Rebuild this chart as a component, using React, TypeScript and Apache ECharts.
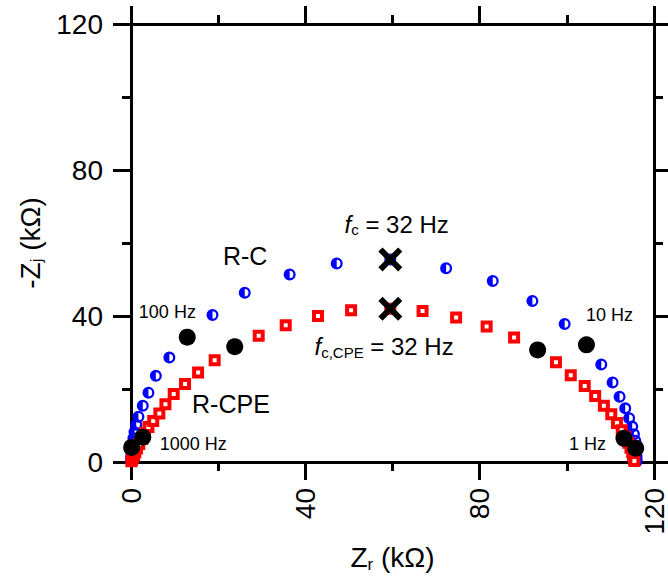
import { useEffect, useRef } from 'react';
import * as echarts from 'echarts';

// Nyquist plot: impedance of an R-C and an R-CPE element (kΩ)
const rcData: [number, number][] = [
  [0.02, 0.5], [0.04, 1.0], [0.07, 1.7], [0.12, 2.6], [0.2, 3.7], [0.35, 5.0],
  [0.55, 6.5], [0.8, 8.2], [1.2, 10.2], [1.7, 12.4], [2.7, 15.4], [4.0, 19.0],
  [5.7, 23.6], [8.8, 28.6], [12.9, 34.2], [18.7, 40.3], [26.1, 46.4], [36.4, 51.4],
  [47.2, 54.4], [59.5, 55.5], [72.3, 53.1], [83.0, 49.6], [92.1, 44.1], [99.5, 37.8],
  [104.5, 32.1], [107.9, 26.7], [110.5, 21.8], [112.1, 17.9], [113.4, 14.7], [114.3, 12.0],
  [115.0, 9.7], [115.4, 7.6], [115.7, 5.8], [115.8, 4.2], [115.9, 2.8], [116.0, 1.6],
  [116.0, 0.7], [116.0, 0.2],
];

const rcpeData: [number, number][] = [
  [0.1, 0.2], [0.25, 0.6], [0.45, 1.2], [0.7, 1.9], [1.0, 2.7], [1.4, 3.7],
  [1.9, 4.9], [2.5, 6.3], [3.2, 7.9], [4.0, 9.6], [5.1, 11.2], [6.5, 13.3],
  [7.9, 15.8], [9.8, 18.6], [12.4, 21.4], [15.4, 24.5], [19.2, 27.9], [23.8, 31.6],
  [29.3, 34.6], [35.5, 37.5], [42.9, 40.0], [50.5, 41.6], [59.5, 42.0], [66.9, 41.4],
  [74.6, 39.6], [81.6, 37.1], [87.9, 34.1], [93.3, 30.7], [97.5, 27.3], [100.9, 23.8],
  [104.1, 20.8], [106.5, 18.1], [108.5, 15.4], [110.2, 13.1], [111.5, 10.7], [112.6, 8.7],
  [113.4, 6.9], [114.1, 5.3], [114.6, 3.9], [115.0, 2.7], [115.2, 1.7], [115.4, 0.9],
  [115.5, 0.3],
];

// points at 1000, 100, 10 and 1 Hz on both curves
const decadePoints: [number, number][] = [
  [0.15, 4.0], [2.7, 6.8], [12.9, 34.2], [23.8, 31.6],
  [93.3, 30.7], [104.5, 32.1], [113.1, 6.5], [115.8, 3.8],
];

// characteristic frequency (32 Hz) of each curve
const peakPoints: [number, number][] = [
  [59.5, 55.5], [59.5, 42.0],
];

const axisMin = 0;
const axisMax = 120;
const axisStep = 40;

// annotation text and anchor (data coordinates of the text's left / vertical middle)
const annotations = [
  { text: 'R-C', at: [21.1, 56.4], size: 25 },
  { text: 'R-CPE', at: [14.0, 15.9], size: 25 },
  { text: '100 Hz', at: [1.8, 41.2], size: 18 },
  { text: '1000 Hz', at: [6.6, 4.8], size: 18 },
  { text: '10 Hz', at: [104.4, 40.3], size: 18 },
  { text: '1 Hz', at: [100.5, 4.8], size: 18 },
  { text: '{i|f}{s|c}{n| = 32 Hz}', at: [49.0, 65.2], size: 24 },
  { text: '{i|f}{s|c,CPE}{n| = 32 Hz}', at: [42.1, 31.6], size: 24 },
];

const FONT = '"Liberation Sans", Arial, Helvetica, sans-serif';

// blue ring with its left half filled
const HALF_CIRCLE =
  'path://M0,-1A1,1,0,1,1,0,1A1,1,0,1,1,0,-1Z' +
  'M0,-0.62A0.62,0.62,0,1,0,0,0.62A0.62,0.62,0,1,0,0,-0.62Z' +
  'M0,-0.62A0.62,0.62,0,0,0,0,0.62Z';

const CROSS =
  'path://M-1,-0.65L-0.65,-1L0,-0.35L0.65,-1L1,-0.65L0.35,0L1,0.65L0.65,1L0,0.35L-0.65,1L-1,0.65L-0.35,0Z';

const subRich = {
  i: { fontSize: 24, fontStyle: 'italic', fontFamily: FONT, color: '#000', lineHeight: 26 },
  s: { fontSize: 15, fontFamily: FONT, color: '#000', lineHeight: 8, verticalAlign: 'bottom' },
  n: { fontSize: 24, fontFamily: FONT, color: '#000', lineHeight: 26 },
};

export default function App() {
  const ref = useRef<HTMLDivElement>(null);

  useEffect(() => {
    document.body.style.margin = '0';
    const chart = echarts.init(ref.current!, null, { renderer: 'svg' });

    const axisBase = {
      type: 'value',
      min: axisMin,
      max: axisMax,
      interval: axisStep,
      axisLine: { show: true, onZero: false, lineStyle: { color: '#000', width: 3 } },
      axisTick: { show: true, inside: false, length: 18, lineStyle: { color: '#000', width: 3 } },
      minorTick: { show: true, splitNumber: 2, length: 9, lineStyle: { color: '#000', width: 3 } },
      splitLine: { show: false },
      minorSplitLine: { show: false },
    };

    const nameStyle = {
      fontSize: 28,
      fontFamily: FONT,
      color: '#000',
      lineHeight: 30,
      rich: {
        s: { fontSize: 17, fontFamily: FONT, color: '#000', lineHeight: 8, verticalAlign: 'bottom' },
      },
    };

    chart.setOption({
      animation: false,
      backgroundColor: '#fff',
      grid: { left: 131, right: 13, top: 24, bottom: 122, containLabel: false },
      xAxis: [
        {
          ...axisBase,
          position: 'bottom',
          axisLabel: {
            rotate: 90, fontSize: 28, margin: 26, color: '#000', fontFamily: FONT,
            showMinLabel: true, showMaxLabel: true,
          },
          name: 'Z{s|r} (kΩ)',
          nameLocation: 'middle',
          nameGap: 74,
          nameTextStyle: nameStyle,
        },
        { ...axisBase, position: 'top', axisLabel: { show: false } },
      ],
      yAxis: [
        {
          ...axisBase,
          position: 'left',
          axisLabel: { fontSize: 28, margin: 28, color: '#000', fontFamily: FONT },
          name: '-Z{s|j} (kΩ)',
          nameLocation: 'middle',
          nameRotate: 90,
          nameGap: 84,
          nameTextStyle: nameStyle,
        },
        { ...axisBase, position: 'right', axisLabel: { show: false } },
      ],
      series: [
        {
          name: 'R-C',
          type: 'scatter',
          data: rcData,
          symbol: HALF_CIRCLE,
          symbolSize: 12,
          itemStyle: { color: '#0000ff', opacity: 1 },
          clip: false,
          z: 2,
        },
        {
          name: 'R-CPE',
          type: 'scatter',
          data: rcpeData,
          symbol: 'rect',
          symbolSize: 8,
          itemStyle: { color: '#ffffff', borderColor: '#ff0000', borderWidth: 4, opacity: 1 },
          clip: false,
          z: 3,
        },
        {
          name: 'decades',
          type: 'scatter',
          data: decadePoints,
          symbol: 'circle',
          symbolSize: 17,
          itemStyle: { color: '#000', opacity: 1 },
          clip: false,
          z: 4,
        },
        {
          name: 'fc',
          type: 'scatter',
          data: peakPoints,
          symbol: CROSS,
          symbolSize: 24,
          itemStyle: { color: '#000', opacity: 1 },
          clip: false,
          z: 5,
        },
      ],
    });

    const toPx = (p: number[]) => chart.convertToPixel({ seriesIndex: 0 }, p) as number[];

    chart.setOption({
      graphic: annotations.map((a) => {
        const [x, y] = toPx(a.at);
        return {
          type: 'text',
          x,
          y,
          z: 10,
          style: {
            text: a.text,
            fontSize: a.size,
            fontFamily: FONT,
            fill: '#000',
            align: 'left',
            verticalAlign: 'middle',
            rich: subRich,
          },
        };
      }),
    });

    return () => chart.dispose();
  }, []);

  return (
    <div
      ref={ref}
      style={{ position: 'fixed', left: 0, top: 0, width: 668, height: 584 }}
    />
  );
}
